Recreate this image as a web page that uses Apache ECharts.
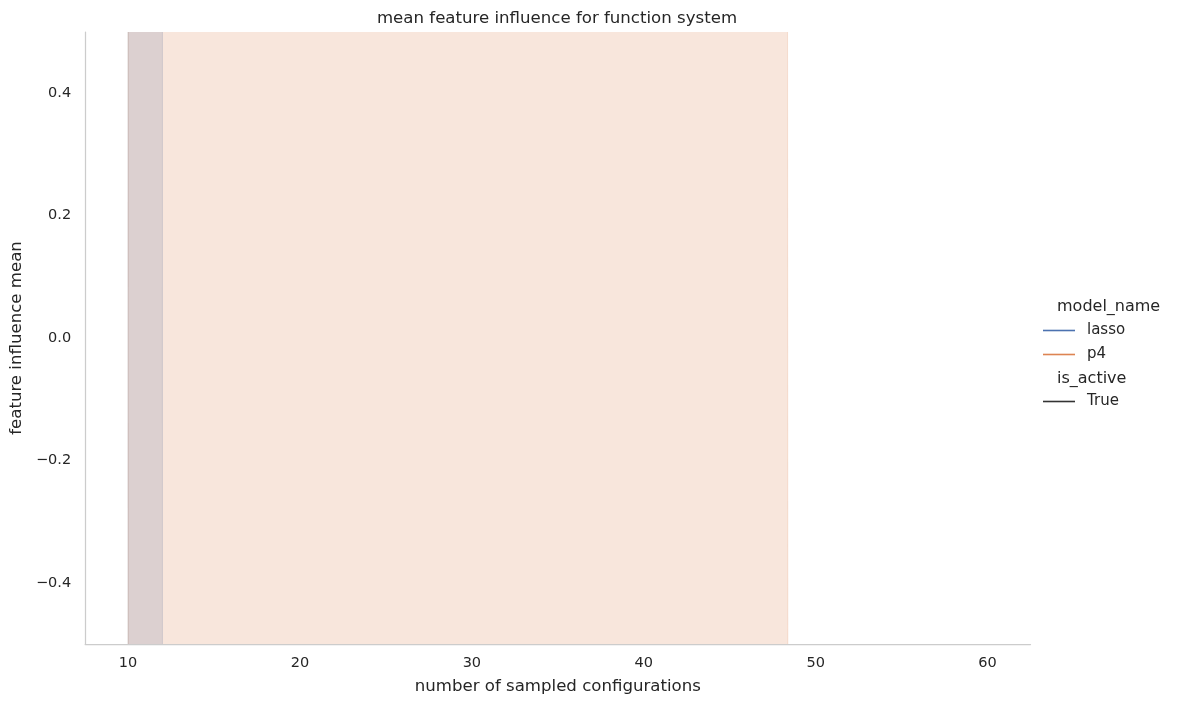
<!DOCTYPE html>
<html>
<head>
<meta charset="utf-8">
<title>mean feature influence for function system</title>
<script src="https://cdn.jsdelivr.net/npm/echarts@6/dist/echarts.min.js"></script>
<style>
  html, body { margin: 0; padding: 0; background: #fff; }
  #chart { width: 1177px; height: 706px; }
</style>
</head>
<body>
<div id="chart"></div>
<script>
// confidence bands (the mean lines lie outside the shown y range)
const lassoX = [10, 12];
const lassoLower = [-30, -30];
const lassoUpper = [30, 30];

const p4X = [10, 20, 30, 40, 48, 50];
const p4Lower = [-25, -25, -25, -25, -25, -110];
const p4Upper = [23, 23, 23, 23, 23, -100];

const xTicks = [10, 20, 30, 40, 50, 60];
const yTicks = [-0.4, -0.2, 0.0, 0.2, 0.4];

const textColor = "#262626";
const fontFamily = "DejaVu Sans";
const blue = "#4c72b0";
const orange = "#dd8452";

// fill between lower and upper, drawn as one polygon through the axis scales
function bandSeries(name, xs, lower, upper, fill) {
	return {
		name: name,
		type: "custom",
		clip: true,
		silent: true,
		data: xs.map((x, i) => [x, lower[i], upper[i]]),
		encode: { x: 0, y: [1, 2] },
		renderItem: function (params, api) {
			if (params.dataIndex !== 0) return;
			const pts = [];
			for (let i = 0; i < xs.length; i++) pts.push(api.coord([xs[i], upper[i]]));
			for (let i = xs.length - 1; i >= 0; i--) pts.push(api.coord([xs[i], lower[i]]));
			return {
				type: "polygon",
				shape: { points: pts },
				style: { fill: fill, stroke: fill, lineWidth: 1 }
			};
		}
	};
}

function legendLine(name, color) {
	return {
		name: name,
		type: "line",
		data: [],
		symbol: "none",
		color: color,
		itemStyle: { color: color },
		lineStyle: { color: color, width: 1.5 }
	};
}

const lineIcon = "path://M0,0 L32,0 L32,1.6 L0,1.6 Z";

const chart = echarts.init(document.getElementById("chart"));

const option = {
	animation: false,
	textStyle: { fontFamily: fontFamily, color: textColor },
	title: {
		text: "mean feature influence for function system",
		left: 552,
		textAlign: "center",
		top: 5,
		textStyle: { fontFamily: fontFamily, fontSize: 16.6, fontWeight: "normal", color: textColor }
	},
	grid: { left: 83.5, right: 146.5, top: 32, bottom: 62 },
	xAxis: {
		type: "value",
		min: 7.5,
		max: 62.5,
		name: "number of sampled configurations",
		nameLocation: "middle",
		nameGap: 34,
		nameTextStyle: { fontSize: 16.6, color: textColor, fontFamily: fontFamily },
		axisLine: { show: true, onZero: false, lineStyle: { color: "#cccccc", width: 1.25 } },
		axisTick: { show: false },
		splitLine: { show: false },
		axisLabel: {
			customValues: xTicks,
			fontSize: 14.5,
			color: textColor,
			margin: 12,
			fontFamily: fontFamily
		}
	},
	yAxis: {
		type: "value",
		min: -0.5,
		max: 0.5,
		name: "feature influence mean",
		nameLocation: "middle",
		nameGap: 58,
		nameTextStyle: { fontSize: 16.6, color: textColor, fontFamily: fontFamily },
		axisLine: { show: true, onZero: false, lineStyle: { color: "#cccccc", width: 1.25 } },
		axisTick: { show: false },
		splitLine: { show: false },
		axisLabel: {
			customValues: yTicks,
			fontSize: 14.5,
			color: textColor,
			margin: 14,
			padding: [3, 0, 0, 0],
			fontFamily: fontFamily,
			formatter: (v) => v.toFixed(1).replace("-", "\u2212")
		}
	},
	legend: [
		{
			data: [{ name: "lasso", icon: lineIcon }, { name: "p4", icon: lineIcon }],
			orient: "vertical",
			left: 1038,
			top: 318,
			itemWidth: 32,
			itemHeight: 14,
			itemGap: 9,
			itemStyle: { borderWidth: 0 },
			textStyle: { fontSize: 15, color: textColor, fontFamily: fontFamily, padding: [0, 0, 0, 7] }
		},
		{
			data: [{ name: "True", icon: lineIcon }],
			orient: "vertical",
			left: 1038,
			top: 389,
			itemWidth: 32,
			itemHeight: 14,
			itemStyle: { borderWidth: 0 },
			textStyle: { fontSize: 15, color: textColor, fontFamily: fontFamily, padding: [0, 0, 0, 7] }
		}
	],
	graphic: [
		{
			type: "text",
			left: 1057,
			top: 299,
			style: { text: "model_name", fontSize: 16, fill: textColor, fontFamily: fontFamily }
		},
		{
			type: "text",
			left: 1057,
			top: 371,
			style: { text: "is_active", fontSize: 16, fill: textColor, fontFamily: fontFamily }
		}
	],
	series: [
		bandSeries("lasso band", lassoX, lassoLower, lassoUpper, "rgba(76,114,176,0.2)"),
		bandSeries("p4 band", p4X, p4Lower, p4Upper, "rgba(221,132,82,0.2)"),
		legendLine("lasso", blue),
		legendLine("p4", orange),
		legendLine("True", "#333333")
	]
};

chart.setOption(option);
</script>
</body>
</html>
